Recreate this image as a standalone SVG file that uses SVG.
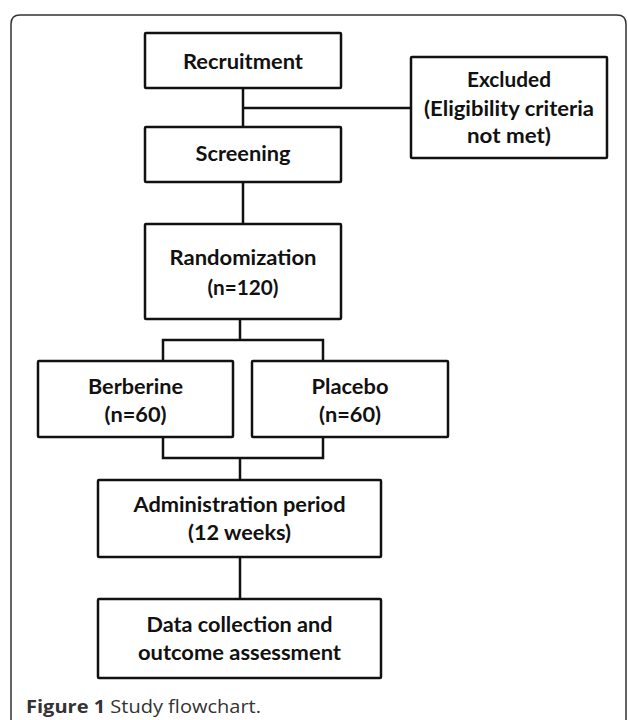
<svg xmlns="http://www.w3.org/2000/svg" width="628" height="720" viewBox="0 0 628 720">
<style>
.box{fill:#fff;stroke:#111;stroke-width:2.5}
.ln{fill:none;stroke:#111;stroke-width:2.5}
.t{font-family:Lato,"Open Sans","Liberation Sans",sans-serif;font-weight:bold;font-size:21px;fill:#111;text-anchor:middle}
.cap{font-family:"Open Sans","Liberation Sans",sans-serif;font-size:18.5px;fill:#333}
</style>
<rect width="628" height="720" fill="#fff"/>
<path d="M11,725 V24 Q11,15 20,15 H617 Q626,15 626,24 V725" fill="none" stroke="#333" stroke-width="1.5"/>
<g id="connectors">
<path class="ln" d="M243,88 V127 M243,108 H411 M243,182 V224"/>
<path class="ln" d="M240,319 V340 M163,361 V340 H323 V361"/>
<path class="ln" d="M163,437 V458 H323 V437 M240,458 V480"/>
<path class="ln" d="M240,557 V599"/>
</g>
<g id="recruitment"><rect class="box" x="145" y="33" width="196" height="55" rx="1"/><text class="t" x="243" y="69" textLength="120" lengthAdjust="spacingAndGlyphs">Recruitment</text></g>
<g id="excluded"><rect class="box" x="411" y="57" width="196" height="101" rx="1"/>
<text class="t" x="509" y="87" textLength="84" lengthAdjust="spacingAndGlyphs">Excluded</text>
<text class="t" x="509" y="116" textLength="170" lengthAdjust="spacingAndGlyphs">(Eligibility criteria</text>
<text class="t" x="509" y="143" textLength="84" lengthAdjust="spacingAndGlyphs">not met)</text></g>
<g id="screening"><rect class="box" x="145" y="127" width="196" height="55" rx="1"/><text class="t" x="243" y="161" textLength="95" lengthAdjust="spacingAndGlyphs">Screening</text></g>
<g id="randomization"><rect class="box" x="145" y="224" width="196" height="95" rx="1"/>
<text class="t" x="243" y="265" textLength="147" lengthAdjust="spacingAndGlyphs">Randomization</text>
<text class="t" x="243" y="295" textLength="71" lengthAdjust="spacingAndGlyphs">(n=120)</text></g>
<g id="berberine"><rect class="box" x="38" y="361" width="195" height="76" rx="1"/>
<text class="t" x="135.5" y="394" textLength="95" lengthAdjust="spacingAndGlyphs">Berberine</text>
<text class="t" x="135.5" y="422" textLength="62" lengthAdjust="spacingAndGlyphs">(n=60)</text></g>
<g id="placebo"><rect class="box" x="252" y="361" width="196" height="76" rx="1"/>
<text class="t" x="350" y="394" textLength="77" lengthAdjust="spacingAndGlyphs">Placebo</text>
<text class="t" x="350" y="422" textLength="62" lengthAdjust="spacingAndGlyphs">(n=60)</text></g>
<g id="administration"><rect class="box" x="98" y="480" width="283" height="77" rx="1"/>
<text class="t" x="239.5" y="512" textLength="212" lengthAdjust="spacingAndGlyphs">Administration period</text>
<text class="t" x="239.5" y="540" textLength="103" lengthAdjust="spacingAndGlyphs">(12 weeks)</text></g>
<g id="data"><rect class="box" x="98" y="599" width="283" height="79" rx="1"/>
<text class="t" x="239.5" y="632" textLength="186" lengthAdjust="spacingAndGlyphs">Data collection and</text>
<text class="t" x="239.5" y="660" textLength="203" lengthAdjust="spacingAndGlyphs">outcome assessment</text></g>
<text class="cap" x="26" y="713" textLength="235" lengthAdjust="spacingAndGlyphs"><tspan font-weight="bold">Figure 1</tspan> Study flowchart.</text>
</svg>
